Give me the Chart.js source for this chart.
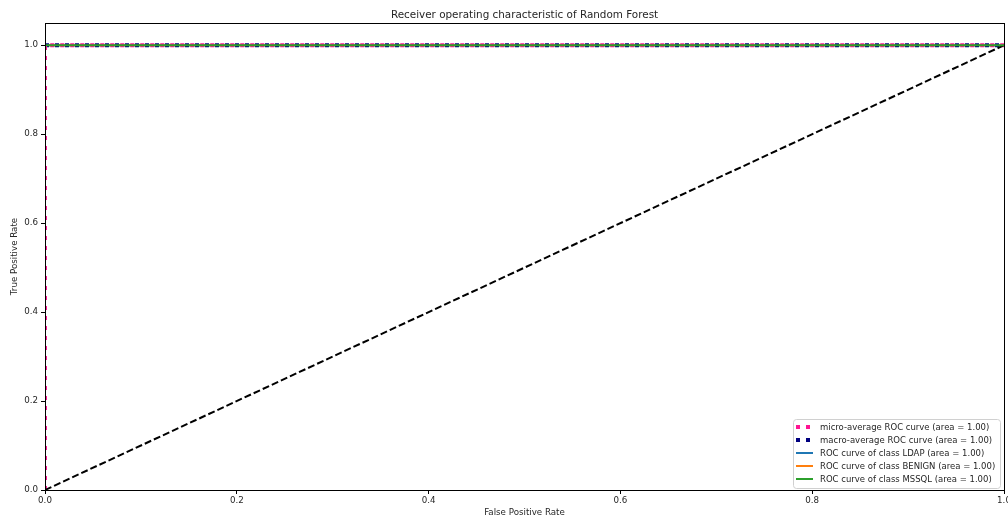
<!DOCTYPE html>
<html>
<head>
<meta charset="utf-8">
<script src="https://cdn.jsdelivr.net/npm/chart.js@4.4.1/dist/chart.umd.min.js"></script>
<style>
    html, body { margin: 0; padding: 0; background: #fff; }
    #wrap { width: 1008px; height: 521px; }
</style>
</head>
<body>
<div id="wrap"><canvas id="rocChart" width="1008" height="521"></canvas></div>
<script>
// curve points
const microFpr = [0, 0, 1];
const microTpr = [0, 1, 1];
const macroFpr = [0, 1];
const macroTpr = [1, 1];
const ldapFpr = [0, 0, 1];
const ldapTpr = [0, 1, 1];
const benignFpr = [0, 0, 1];
const benignTpr = [0, 1, 1];
const mssqlFpr = [0, 0, 1];
const mssqlTpr = [0, 1, 1];
const chanceFpr = [0, 1];
const chanceTpr = [0, 1];

const chartTitle = 'Receiver operating characteristic of Random Forest';
const seriesLabels = [
    'micro-average ROC curve (area = 1.00)',
    'macro-average ROC curve (area = 1.00)',
    'ROC curve of class LDAP (area = 1.00)',
    'ROC curve of class BENIGN (area = 1.00)',
    'ROC curve of class MSSQL (area = 1.00)'
];
const xTicks = [0, 0.2, 0.4, 0.6, 0.8, 1.0];
const yTicks = [0, 0.2, 0.4, 0.6, 0.8, 1.0];

function toPoints(xs, ys) {
    return xs.map((x, i) => ({ x: x, y: ys[i] }));
}

const FONT = 'DejaVu Sans';
const TEXT = '#262626';
const SMALL = 8.7;

// matplotlib-like frame, title over the axes, legend in lower right
const framePlugin = {
    id: 'frame',
    afterDatasetsDraw(chart) {
        const ctx = chart.ctx;
        const a = chart.chartArea;
        ctx.save();
        ctx.strokeStyle = '#000';
        ctx.lineWidth = 1;
        ctx.strokeRect(Math.round(a.left) + 0.5, Math.round(a.top) + 0.5,
            Math.round(a.right - a.left), Math.round(a.bottom - a.top));

        // title centred on the plot area
        ctx.fillStyle = TEXT;
        ctx.font = '10.4px "' + FONT + '"';
        ctx.textAlign = 'center';
        ctx.textBaseline = 'middle';
        ctx.fillText(chartTitle, (a.left + a.right) / 2, 15);

        // legend
        const n = seriesLabels.length;
        const rowH = 13;
        const boxW = 207;
        const boxH = 69;
        const bx = a.right - 4 - boxW;
        const by = a.bottom - 2 - boxH;
        ctx.fillStyle = 'rgba(255,255,255,0.8)';
        ctx.strokeStyle = '#d0d0d0';
        ctx.lineWidth = 1;
        ctx.beginPath();
        ctx.roundRect(bx + 0.5, by + 0.5, boxW, boxH, 3);
        ctx.fill();
        ctx.stroke();

        ctx.font = '8.5px "' + FONT + '"';
        ctx.textBaseline = 'middle';
        ctx.textAlign = 'left';
        for (let i = 0; i < n; i++) {
            const ds = chart.data.datasets[i];
            const y = by + 8 + i * rowH;
            ctx.beginPath();
            ctx.strokeStyle = ds.borderColor;
            ctx.lineWidth = ds.borderWidth;
            ctx.setLineDash(ds.borderDash || []);
            ctx.moveTo(bx + 3, y);
            ctx.lineTo(bx + 20, y);
            ctx.stroke();
            ctx.setLineDash([]);
            ctx.fillStyle = TEXT;
            ctx.fillText(seriesLabels[i], bx + 27, y + 0.5);
        }
        ctx.restore();
    }
};

const ctx = document.getElementById('rocChart').getContext('2d');
const rocChart = new Chart(ctx, {
    type: 'scatter',
    data: {
        datasets: [
            {
                label: seriesLabels[0],
                data: toPoints(microFpr, microTpr),
                borderColor: 'deeppink',
                borderWidth: 4,
                borderDash: [4, 6],
                order: 1
            },
            {
                label: seriesLabels[1],
                data: toPoints(macroFpr, macroTpr),
                borderColor: 'navy',
                borderWidth: 4,
                borderDash: [4, 6],
                order: 2
            },
            {
                label: seriesLabels[2],
                data: toPoints(ldapFpr, ldapTpr),
                borderColor: '#1f77b4',
                borderWidth: 2,
                order: 5
            },
            {
                label: seriesLabels[3],
                data: toPoints(benignFpr, benignTpr),
                borderColor: '#ff7f0e',
                borderWidth: 2,
                order: 4
            },
            {
                label: seriesLabels[4],
                data: toPoints(mssqlFpr, mssqlTpr),
                borderColor: '#2ca02c',
                borderWidth: 2,
                order: 0
            },
            {
                label: 'chance',
                data: toPoints(chanceFpr, chanceTpr),
                borderColor: '#000',
                borderWidth: 2,
                borderDash: [7, 3],
                order: 0
            }
        ]
    },
    options: {
        responsive: false,
        animation: false,
        showLine: true,
        datasets: {
            scatter: {
                showLine: true,
                pointRadius: 0,
                pointHoverRadius: 0,
                fill: false,
                tension: 0,
                clip: 0
            }
        },
        layout: {
            padding: { top: 23, right: 4, bottom: 0, left: 0 }
        },
        plugins: {
            legend: { display: false },
            tooltip: { enabled: false },
            title: { display: false }
        },
        scales: {
            x: {
                type: 'linear',
                min: 0,
                max: 1,
                afterBuildTicks(scale) {
                    scale.ticks = xTicks.map(v => ({ value: v }));
                },
                afterFit(scale) {
                    scale.height = 31;
                    scale.paddingRight = 0;
                    scale.paddingLeft = 0;
                },
                ticks: {
                    color: TEXT,
                    padding: 2,
                    maxRotation: 0,
                    autoSkip: false,
                    font: { family: FONT, size: SMALL },
                    callback: v => v.toFixed(1)
                },
                grid: {
                    drawOnChartArea: false,
                    drawTicks: true,
                    tickLength: 4,
                    color: '#000'
                },
                border: { display: true, color: '#000', width: 1 },
                title: {
                    display: true,
                    text: 'False Positive Rate',
                    color: TEXT,
                    font: { family: FONT, size: SMALL },
                    padding: { top: 0, bottom: 3 }
                }
            },
            y: {
                type: 'linear',
                min: 0,
                max: 1.05,
                afterBuildTicks(scale) {
                    scale.ticks = yTicks.map(v => ({ value: v }));
                },
                afterFit(scale) {
                    scale.width = 45;
                    scale.paddingTop = 0;
                },
                ticks: {
                    color: TEXT,
                    padding: 3,
                    autoSkip: false,
                    font: { family: FONT, size: SMALL },
                    callback: v => v.toFixed(1)
                },
                grid: {
                    drawOnChartArea: false,
                    drawTicks: true,
                    tickLength: 4,
                    color: '#000'
                },
                border: { display: true, color: '#000', width: 1 },
                title: {
                    display: true,
                    text: 'True Positive Rate',
                    color: TEXT,
                    font: { family: FONT, size: SMALL },
                    padding: { top: 10, bottom: 0 }
                }
            }
        }
    },
    plugins: [framePlugin]
});
</script>
</body>
</html>
